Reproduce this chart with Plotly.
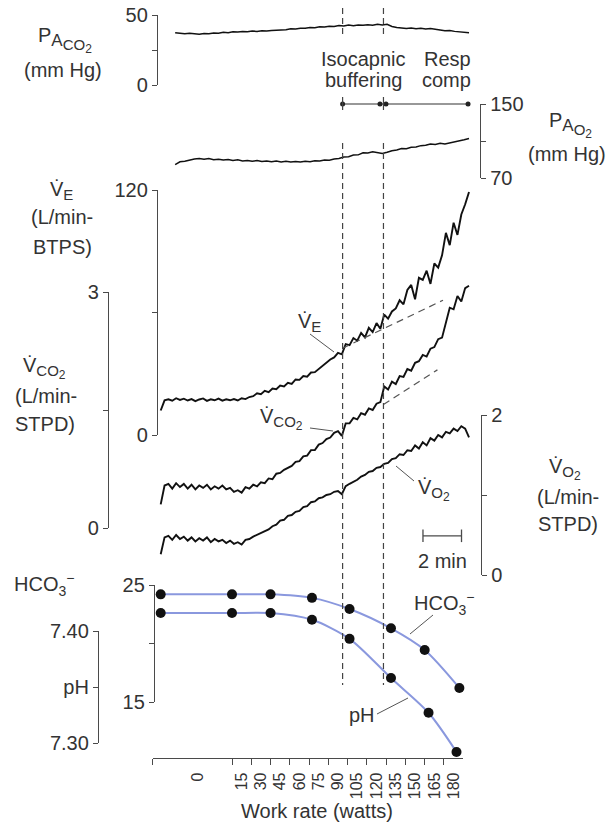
import plotly.graph_objects as go

# ---------------- data ----------------
# breath-by-breath traces, sampled every 0.2 min from -3.7 min (time 0 = start of 15 W stage)
t_breath = [round(-3.7 + 0.2 * k, 2) for k in range(81)]
ve = [12.0, 17.0, 17.5, 16.8, 18.0, 17.2, 17.8, 16.9, 17.6, 16.6,
      17.4, 17.9, 16.7, 17.5, 17.0, 17.8, 16.8, 17.5, 17.0, 17.6,
      16.9, 18.0, 17.6, 18.6, 19.0, 20.4, 20.0, 21.6, 21.0, 22.8,
      22.4, 24.2, 23.8, 25.6, 25.0, 27.2, 27.0, 28.9, 28.6, 30.6,
      30.8, 32.4, 33.6, 35.2, 37.0, 38.0, 40.2, 39.5, 44.5, 44.0,
      47.5, 46.2, 50.0, 47.8, 52.5, 50.4, 54.8, 52.0, 59.0, 57.0,
      60.5, 62.0, 66.0, 64.0, 71.0, 73.5, 66.5, 77.0, 76.0, 80.5,
      74.0, 84.0, 82.0, 88.0, 99.0, 93.0, 104.0, 98.0, 108.0, 113.0,
      119.0]
vco2 = [0.30, 0.54, 0.56, 0.50, 0.57, 0.52, 0.56, 0.50, 0.55, 0.49,
        0.54, 0.51, 0.55, 0.49, 0.53, 0.50, 0.54, 0.49, 0.51, 0.46,
        0.48, 0.45, 0.52, 0.50, 0.55, 0.53, 0.58, 0.57, 0.63, 0.62,
        0.69, 0.70, 0.74, 0.77, 0.79, 0.84, 0.85, 0.91, 0.92, 0.99,
        0.99, 1.06, 1.08, 1.13, 1.15, 1.21, 1.23, 1.17, 1.33, 1.33,
        1.40, 1.38, 1.46, 1.44, 1.52, 1.50, 1.58, 1.60, 1.80, 1.76,
        1.86, 1.83, 1.93, 1.92, 2.02, 2.00, 2.10, 2.12, 2.20, 2.18,
        2.28, 2.30, 2.40, 2.42, 2.62, 2.80, 2.78, 2.95, 2.88, 3.05,
        3.08]
vo2 = [0.26, 0.47, 0.49, 0.44, 0.50, 0.45, 0.48, 0.43, 0.47, 0.42,
       0.46, 0.43, 0.47, 0.41, 0.45, 0.42, 0.44, 0.40, 0.43, 0.39,
       0.41, 0.38, 0.44, 0.45, 0.48, 0.50, 0.52, 0.55, 0.57, 0.61,
       0.63, 0.68, 0.69, 0.74, 0.75, 0.79, 0.80, 0.85, 0.86, 0.91,
       0.92, 0.96, 0.97, 1.00, 1.01, 1.04, 1.05, 1.01, 1.11, 1.14,
       1.16, 1.19, 1.23, 1.25, 1.29, 1.30, 1.34, 1.35, 1.39, 1.40,
       1.45, 1.46, 1.51, 1.50, 1.56, 1.55, 1.62, 1.58, 1.66, 1.62,
       1.71, 1.68, 1.75, 1.72, 1.79, 1.77, 1.83, 1.80, 1.86, 1.83,
       1.72]

# alveolar gas tensions, sampled every 0.25 min
t_alv = [round(-2.95 + 0.25 * k, 2) for k in range(62)]
paco2 = [37.4, 37.0, 36.6, 36.9, 36.4, 36.3, 36.8, 36.6, 37.2, 37.0,
         37.6, 37.4, 38.0, 37.8, 38.2, 38.0, 38.5, 38.3, 38.8, 38.6,
         39.0, 39.1, 39.6, 39.5, 40.1, 40.0, 40.6, 40.5, 41.1, 40.9,
         41.6, 41.4, 42.0, 41.8, 42.5, 42.2, 42.8, 42.4, 42.9, 42.6,
         43.1, 42.7, 43.3, 42.9, 43.4, 41.8, 41.0, 40.6, 40.4, 40.7,
         40.2, 40.5, 40.0, 40.4, 39.6, 39.3, 38.8, 39.0, 38.3, 38.0,
         37.8, 37.3]
pao2 = [84.5, 87.5, 88.0, 89.5, 90.5, 91.0, 90.2, 91.0, 89.8, 90.3,
        89.4, 90.0, 89.0, 89.6, 88.5, 89.0, 88.2, 88.8, 87.8, 88.4,
        87.6, 88.3, 87.4, 88.0, 87.2, 87.9, 87.3, 88.0, 87.6, 88.6,
        88.4, 89.5, 89.3, 90.6, 91.0, 92.6, 93.0, 94.8, 95.0, 97.2,
        97.0, 98.4, 97.6, 96.4, 97.8, 99.5, 100.2, 101.8, 101.6, 103.2,
        103.6, 105.0, 105.4, 106.8, 106.2, 107.5, 106.8, 107.8, 109.5, 110.6,
        111.4, 112.8]

# arterial blood samples
t_hco3 = [-3.7, 0.0, 2.0, 4.15, 6.1, 8.25, 10.0, 11.8]
hco3 = [24.2, 24.2, 24.2, 23.9, 22.95, 21.3, 19.45, 16.2]
t_ph = [-3.7, 0.0, 2.0, 4.15, 6.1, 8.25, 10.2, 11.65]
ph = [7.416, 7.416, 7.416, 7.410, 7.393, 7.358, 7.327, 7.292]

# thresholds (min) and extrapolation lines
thresholds = [5.74, 7.86]
ve_ext_t = [5.74, 10.95]
ve_ext = [42.5, 66.0]
vco2_ext_t = [7.86, 10.66]
vco2_ext = [1.57, 2.01]
phase_t = [5.74, 7.68, 7.99, 12.25]
phase_y = [150, 150, 150, 150]
scale_t = [9.91, 11.91]
scale_y = [0.49, 0.49]

# work-rate axis
work_labels = ['0', '15', '30', '45', '60', '75', '90', '105', '120', '135', '150', '165', '180']
work_label_t = [-1.8] + [i + 0.5 for i in range(12)]
stage_bounds = [-4.1] + list(range(13))

# ---------------- geometry ----------------
W, H = 608, 826
TXT = '#333333'
AX = '#4a4a4a'
BLUE = 'rgb(138,152,222)'
FONT = 'Liberation Sans, Arial, Helvetica, sans-serif'
FS = 20
S = 19.27     # px per minute
X0 = 232.0    # px of t = 0


def fx(p):
    return p / W


def fy(p):
    return 1 - p / H


def t_at(p):
    return (p - X0) / S


def full_range(v1, p1, v2, p2):
    k = (v2 - v1) / (p2 - p1)
    return [v1 + k * (H - p1), v1 + k * (0 - p1)]


# (v_lo, p_lo, v_hi, p_hi, x_line, side, tickvals, ticktext)
panels = [
    (0, 85, 50, 15, 157, 'left', [0, 25, 50], ['0', '', '50']),
    (70, 178, 150, 104, 480, 'right', [70, 110, 150], ['70', '', '150']),
    (0, 435, 120, 190, 157, 'left', [0, 60, 120], ['0', '', '120']),
    (0, 528, 3, 292, 108, 'left', [0, 1.5, 3], ['0', '', '3']),
    (0, 575, 2, 415, 481, 'right', [0, 1, 2], ['0', '', '2']),
    (15, 702, 25, 585, 154, 'left', [15, 20, 25], ['15', '', '25']),
    (7.30, 743, 7.40, 631, 98, 'left', [7.30, 7.35, 7.40], ['7.30', 'pH', '7.40']),
]

layout = dict(
    width=W, height=H, margin=dict(l=0, r=0, t=0, b=0, pad=0, autoexpand=False),
    paper_bgcolor='white', plot_bgcolor='rgba(0,0,0,0)',
    showlegend=False, hovermode=False,
    font=dict(family=FONT, size=FS, color=TXT),
)
layout['xaxis'] = dict(domain=[0, 1], range=[t_at(0), t_at(W)], visible=False, fixedrange=True)

fig = go.Figure()
n = len(panels)
for i, (vlo, plo, vhi, phi, xl, side, tv, tt) in enumerate(panels):
    key = 'yaxis' if i == 0 else f'yaxis{i + 1}'
    ax = dict(domain=[0, 1], range=full_range(vlo, plo, vhi, phi), visible=False, fixedrange=True)
    if i > 0:
        ax['overlaying'] = 'y'
    layout[key] = ax
    di = n + 1 + i
    layout[f'yaxis{di}'] = dict(
        domain=[fy(plo), fy(phi)], range=[vlo, vhi], anchor='free', position=fx(xl), side=side,
        showline=True, linecolor=AX, linewidth=1.3, ticks='outside', ticklen=5, tickwidth=1.3,
        tickcolor=AX, tickmode='array', tickvals=tv, ticktext=tt, showgrid=False, zeroline=False,
        tickfont=dict(size=FS, color=TXT), fixedrange=True, automargin=False)
    fig.add_trace(go.Scatter(x=[], y=[], xaxis='x', yaxis=f'y{di}', hoverinfo='skip'))

layout['xaxis2'] = dict(
    domain=[fx(153), fx(463)], range=[t_at(153), t_at(463)], anchor='free', position=fy(758),
    side='bottom', showline=True, linecolor=AX, linewidth=1.3, ticks='', tickmode='array',
    tickvals=work_label_t, ticktext=work_labels, tickangle=-90, ticklabelstandoff=7,
    tickfont=dict(size=16, color=TXT), showgrid=False, zeroline=False, fixedrange=True,
    automargin=False,
    minor=dict(tickmode='array', tickvals=stage_bounds, ticks='outside', ticklen=6, tickwidth=1.3,
               tickcolor=AX, showgrid=False))
fig.add_trace(go.Scatter(x=[], y=[], xaxis='x2', yaxis='y', hoverinfo='skip'))

line_k = dict(color='#111111', width=1.5)
noisy_k = dict(color='#111111', width=1.9)
fig.add_trace(go.Scatter(x=t_alv, y=paco2, mode='lines', line=line_k, xaxis='x', yaxis='y'))
fig.add_trace(go.Scatter(x=t_alv, y=pao2, mode='lines', line=line_k, xaxis='x', yaxis='y2'))
fig.add_trace(go.Scatter(x=t_breath, y=ve, mode='lines', line=noisy_k, xaxis='x', yaxis='y3'))
fig.add_trace(go.Scatter(x=t_breath, y=vco2, mode='lines', line=noisy_k, xaxis='x', yaxis='y4'))
fig.add_trace(go.Scatter(x=t_breath, y=vo2, mode='lines', line=noisy_k, xaxis='x', yaxis='y5'))
dash_k = dict(color='#555555', width=1.2, dash='7px,5px')
fig.add_trace(go.Scatter(x=ve_ext_t, y=ve_ext, mode='lines', line=dash_k, xaxis='x', yaxis='y3'))
fig.add_trace(go.Scatter(x=vco2_ext_t, y=vco2_ext, mode='lines', line=dash_k, xaxis='x', yaxis='y4'))
fig.add_trace(go.Scatter(x=phase_t, y=phase_y, mode='lines+markers', xaxis='x', yaxis='y2',
                         line=dict(color='#333333', width=1.2), marker=dict(color='#222222', size=5)))
fig.add_trace(go.Scatter(x=scale_t, y=scale_y, mode='lines+markers', xaxis='x', yaxis='y5',
                         line=dict(color=AX, width=1.3),
                         marker=dict(symbol='line-ns', size=9, line=dict(color=AX, width=1.3))))
fig.add_trace(go.Scatter(x=t_hco3, y=hco3, mode='lines+markers', xaxis='x', yaxis='y6',
                         line=dict(color=BLUE, width=2, shape='spline', smoothing=0.8),
                         marker=dict(color='#111111', size=10)))
fig.add_trace(go.Scatter(x=t_ph, y=ph, mode='lines+markers', xaxis='x', yaxis='y7',
                         line=dict(color=BLUE, width=2, shape='spline', smoothing=0.8),
                         marker=dict(color='#111111', size=10)))

# threshold lines
shapes = []
for tx in thresholds:
    for (a, b, d) in [(8, 35, '6px,4px'), (97, 110, 'solid'), (143, 685, '6px,4px')]:
        shapes.append(dict(type='line', xref='x', yref='paper', x0=tx, x1=tx, y0=fy(a), y1=fy(b),
                           line=dict(color='#444444', width=1.2, dash=d)))
# leader lines for labels
for (a, b, c, d) in [(310, 334, 334, 352), (310, 428, 333, 431), (396, 466, 414, 481),
                     (433, 615, 410, 634), (377, 714, 408, 698)]:
    shapes.append(dict(type='line', xref='paper', yref='paper', x0=fx(a), y0=fy(b), x1=fx(c), y1=fy(d),
                       line=dict(color='#555555', width=1)))


def ann(text, x, y, xanchor='center', size=FS):
    return dict(text=text, x=fx(x), y=fy(y), xref='paper', yref='paper', xanchor=xanchor,
                yanchor='middle', showarrow=False, font=dict(size=size, color=TXT))


VDOT = 'V\u0307'
PA_CO2 = ('P<sub><span style="font-size:17px">A<sub><span style="font-size:15px">CO'
          '<sub><span style="font-size:12px">2</span></sub></span></sub></span></sub>')
PA_O2 = ('P<sub><span style="font-size:17px">A<sub><span style="font-size:15px">O'
         '<sub><span style="font-size:12px">2</span></sub></span></sub></span></sub>')
V_E = VDOT + '<sub><span style="font-size:15px">E</span></sub>'
V_CO2 = VDOT + '<sub><span style="font-size:15px">CO<sub><span style="font-size:12px">2</span></sub></span></sub>'
V_O2 = VDOT + '<sub><span style="font-size:15px">O<sub><span style="font-size:12px">2</span></sub></span></sub>'
HCO3 = 'HCO<sub>3</sub><sup>\u2212</sup>'

anns = [
    ann(PA_CO2, 36, 40, 'left'),
    ann('(mm Hg)', 63, 70),
    ann('Isocapnic', 363, 59), ann('buffering', 363, 80),
    ann('Resp', 447, 59), ann('comp', 446, 80),
    ann(PA_O2, 547, 125, 'left'),
    ann('(mm Hg)', 567, 154),
    ann(V_E, 61, 191),
    ann('(L/min-', 62, 217), ann('BTPS)', 62, 247),
    ann(V_CO2, 44, 368),
    ann('(L/min-', 46, 396), ann('STPD)', 45, 424),
    ann(V_O2, 565, 469),
    ann('(L/min-', 568, 497), ann('STPD)', 568, 524),
    ann('2 min', 442, 561),
    ann(HCO3, 12, 584, 'left'),
    ann(HCO3, 412, 603, 'left'),
    ann('pH', 362, 715),
    ann(V_E, 309, 322),
    ann(V_CO2, 281, 419),
    ann(V_O2, 434, 490),
    ann('Work rate (watts)', 317, 811),
]

layout['shapes'] = shapes
layout['annotations'] = anns
fig.update_layout(**layout)
fig.write_html('out.html', config={'displayModeBar': False},
               post_script="document.body.style.margin='0px';")
